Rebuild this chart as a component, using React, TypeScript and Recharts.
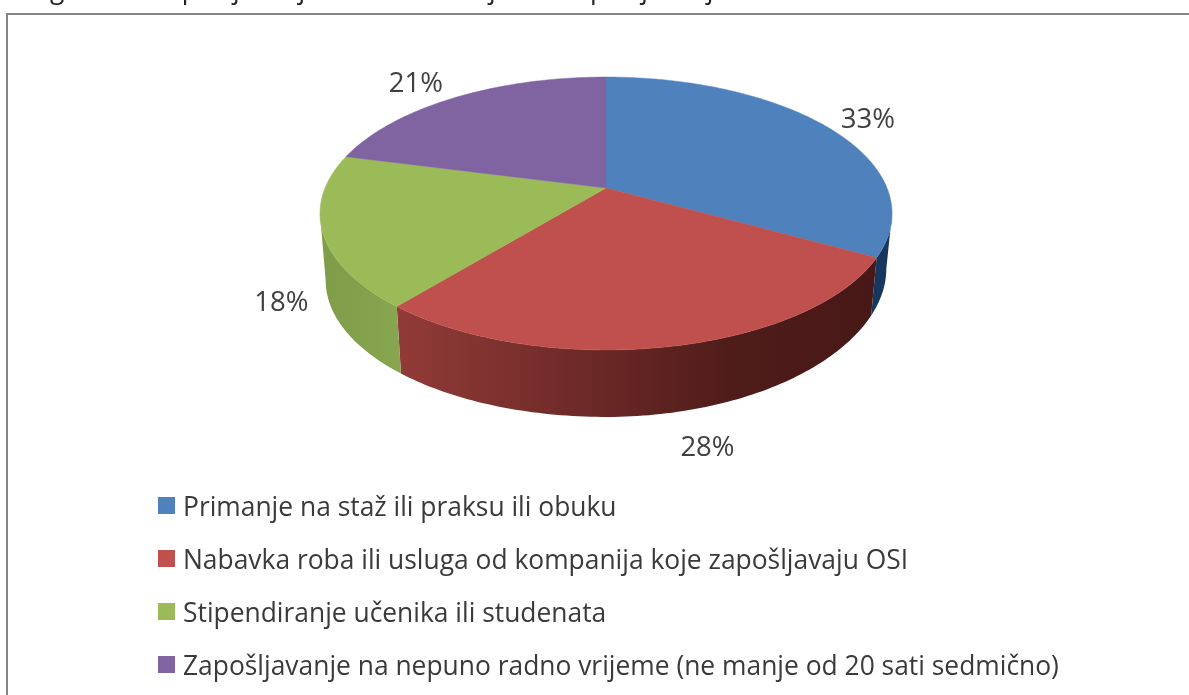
import { Cell, Legend, Pie, PieChart } from 'recharts';

const categories = [
  'Primanje na staž ili praksu ili obuku',
  'Nabavka roba ili usluga od kompanija koje zapošljavaju OSI',
  'Stipendiranje učenika ili studenata',
  'Zapošljavanje na nepuno radno vrijeme (ne manje od 20 sati sedmično)',
];
const shares = [33, 28, 18, 21];

// the caption above the chart is cropped by the picture, only descenders show
const captionParts = ['g', 'Zapošljavanje', 'j', 'zapošljavanja'];
const captionLefts = [50, 152, 489, 563];

const topColors = ['#4f81bd', '#c0504d', '#9bbb59', '#8064a2'];
const sideColors = ['#17375e', 'url(#redSide)', 'url(#greenSide)', '#8064a2'];
const labelOffsets = [
  [41, -9],
  [37, 99],
  [-41, 69],
  [-40, -16],
];

const chartData = categories.map((name, i) => ({ name, value: shares[i] }));

// the tilted disc: a circle under a perspective transform, so the centre
// of the pie is not the centre of the ellipse
const PERSPECTIVE = -0.1868;
const SQUASH = 131.7 / 281;
const DEPTH = 67;
const RIGHT_DEPTH_LOSS = 12;
const BOTTOM_SCALE = 0.98;
// angle (clockwise from 12 o'clock) where the rim turns away from the viewer
const SIDE_FROM = 100.8;
const SIDE_TO = 259.2;

function project(cx: number, cy: number, r: number, theta: number) {
  const a = (theta * Math.PI) / 180;
  const u = Math.sin(a);
  const v = -Math.cos(a);
  const den = 1 + PERSPECTIVE * v;
  return { x: cx + (r * u) / den, y: cy + (r * SQUASH * v) / den };
}

function angleSteps(from: number, to: number) {
  const steps = Math.max(2, Math.ceil(Math.abs(to - from)));
  return Array.from({ length: steps + 1 }, (_, i) => from + ((to - from) * i) / steps);
}

function rim(cx: number, cy: number, r: number, from: number, to: number) {
  return angleSteps(from, to).map((theta) => {
    const p = project(cx, cy, r, theta);
    return `${p.x.toFixed(2)} ${p.y.toFixed(2)}`;
  });
}

// lower edge of the wall: a bit narrower than the top, and the wall gets
// a little shorter towards the right
function lowerRim(cx: number, cy: number, r: number, from: number, to: number) {
  return angleSteps(from, to).map((theta) => {
    const u = Math.sin((theta * Math.PI) / 180);
    const depth = DEPTH - (u > 0 ? RIGHT_DEPTH_LOSS * u * u : 0);
    const p = project(cx, cy, r, theta);
    const x = cx + (p.x - cx) * BOTTOM_SCALE;
    return `${x.toFixed(2)} ${(p.y + depth).toFixed(2)}`;
  });
}

function DiscSlice(props: any) {
  const { cx, cy, outerRadius, startAngle, endAngle, fill, index } = props;
  const from = 90 - startAngle;
  const to = 90 - endAngle;
  const sideFrom = Math.max(from, SIDE_FROM);
  const sideTo = Math.min(to, SIDE_TO);
  let side = null;
  if (sideTo > sideFrom) {
    const upper = rim(cx, cy, outerRadius, sideFrom, sideTo);
    const lower = lowerRim(cx, cy, outerRadius, sideFrom, sideTo).reverse();
    side = <path d={`M${[...upper, ...lower].join('L')}Z`} fill={sideColors[index]} />;
  }
  const top = rim(cx, cy, outerRadius, from, to);
  return (
    <g>
      {side}
      <path d={`M${cx} ${cy}L${top.join('L')}Z`} fill={fill} stroke={fill} strokeWidth={0.5} />
    </g>
  );
}

function sliceLabel(props: any) {
  const { cx, cy, outerRadius, midAngle, index, value } = props;
  const p = project(cx, cy, outerRadius, 90 - midAngle);
  return (
    <text
      x={p.x + labelOffsets[index][0]}
      y={p.y + labelOffsets[index][1]}
      textAnchor="middle"
      dominantBaseline="central"
      fontSize={27.5}
      fill="#404040"
      fontFamily="'Open Sans', sans-serif"
    >
      {value}%
    </text>
  );
}

function legendContent() {
  return (
    <div>
      {categories.map((name, i) => (
        <div key={name} style={{ display: 'flex', alignItems: 'center', height: 53 }}>
          <span style={{ width: 17, height: 17, background: topColors[i], marginRight: 8 }} />
          <span style={{ fontSize: 26.4, color: '#3a3a3a', whiteSpace: 'nowrap' }}>{name}</span>
        </div>
      ))}
    </div>
  );
}

export default function App() {
  return (
    <div
      style={{
        position: 'absolute',
        left: 0,
        top: 0,
        width: 1189,
        height: 695,
        overflow: 'hidden',
        background: '#fff',
        fontFamily: "'Open Sans', sans-serif",
        filter: 'blur(0.5px)',
      }}
    >
      {captionParts.map((part, i) => (
        <span
          key={part}
          style={{
            position: 'absolute',
            left: captionLefts[i],
            bottom: 689,
            fontSize: 26.4,
            lineHeight: '36px',
            color: '#222',
            whiteSpace: 'nowrap',
          }}
        >
          {part}
        </span>
      ))}
      {/* frame of the pasted chart, only top and left are in view */}
      <div
        style={{
          position: 'absolute',
          left: 6,
          top: 13,
          width: 1183,
          height: 682,
          borderTop: '2px solid #858585',
          borderLeft: '2px solid #858585',
        }}
      />
      <div style={{ position: 'absolute', left: 0, top: 0 }}>
        <PieChart width={1189} height={695}>
          <defs>
            <linearGradient id="redSide" x1="0" y1="0" x2="1" y2="0">
              <stop offset="0" stopColor="#923b38" />
              <stop offset="0.7" stopColor="#4f1c1a" />
              <stop offset="1" stopColor="#471817" />
            </linearGradient>
            <linearGradient id="greenSide" x1="0" y1="0" x2="1" y2="0">
              <stop offset="0" stopColor="#7f9c49" />
              <stop offset="1" stopColor="#87a64f" />
            </linearGradient>
          </defs>
          {/* the chart's default 5px margin is added to cx and cy */}
          <Pie
            data={chartData}
            dataKey="value"
            nameKey="name"
            cx={601}
            cy={183}
            outerRadius={281}
            startAngle={90}
            endAngle={-270}
            paddingAngle={0}
            stroke="none"
            shape={DiscSlice}
            label={sliceLabel}
            labelLine={false}
            isAnimationActive={false}
          >
            {chartData.map((entry, i) => (
              <Cell key={entry.name} fill={topColors[i]} />
            ))}
          </Pie>
          <Legend
            content={legendContent}
            layout="horizontal"
            verticalAlign="bottom"
            align="left"
            wrapperStyle={{ left: 158, top: 479, bottom: 'auto', width: 1000 }}
          />
        </PieChart>
      </div>
    </div>
  );
}
